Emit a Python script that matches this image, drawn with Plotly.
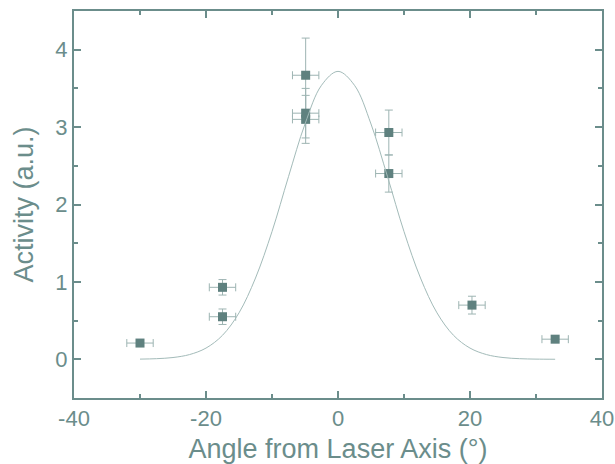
import plotly.graph_objects as go

# Measured data points
angle = [-30.0, -17.5, -17.5, -4.9, -4.9, -4.9, 7.7, 7.7, 20.3, 32.9]
activity = [0.21, 0.93, 0.55, 3.67, 3.18, 3.10, 2.93, 2.40, 0.70, 0.26]
activity_err = [0.03, 0.10, 0.10, 0.48, 0.32, 0.31, 0.29, 0.24, 0.115, 0.03]
angle_err = [2.0, 2.0, 2.0, 2.0, 2.0, 2.0, 2.0, 2.0, 2.0, 2.0]

# Fitted curve
fit_angle = [-30.0, -27.5, -25.0, -22.5, -20.0, -17.5, -15.0, -12.5, -10.0, -7.5, -5.0, -2.5, 0.0,
             2.5, 5.0, 7.5, 10.0, 12.5, 15.0, 17.5, 20.0, 22.5, 25.0, 27.5, 30.0, 32.9]
fit_activity = [0.0025, 0.008, 0.023, 0.061, 0.145, 0.31, 0.60, 1.05, 1.65, 2.36, 3.04, 3.54, 3.72,
                3.54, 3.04, 2.36, 1.65, 1.05, 0.60, 0.31, 0.145, 0.061, 0.023, 0.008, 0.0025, 0.0006]

x_ticks = [-40, -20, 0, 20, 40]
y_ticks = [0, 1, 2, 3, 4]

axis_color = "#6b8d8b"
marker_color = "#5f817f"
err_color = "#9db4b2"
curve_color = "#a3bbb9"

fig = go.Figure()
fig.add_trace(go.Scatter(
    x=angle, y=activity, mode="markers",
    marker=dict(symbol="square", size=9, color=marker_color, line=dict(width=0)),
    error_x=dict(type="data", array=angle_err, color=err_color, thickness=1, width=4),
    error_y=dict(type="data", array=activity_err, color=err_color, thickness=1, width=4),
    showlegend=False,
))
fig.add_trace(go.Scatter(
    x=fit_angle, y=fit_activity, mode="lines",
    line=dict(color=curve_color, width=1, shape="spline"),
    showlegend=False,
))

font_family = "Liberation Sans, Arial, sans-serif"
fig.update_layout(
    width=615, height=464,
    margin=dict(l=74, r=13, t=11, b=66),
    paper_bgcolor="white", plot_bgcolor="white",
    font=dict(family=font_family, color=axis_color, size=22),
    xaxis=dict(
        range=[-40, 40], tickvals=x_ticks, ticktext=[str(v) for v in x_ticks],
        showgrid=False, zeroline=False, automargin=False,
        showline=True, linecolor=axis_color, linewidth=2, mirror="ticks",
        ticks="inside", ticklen=7, tickwidth=2, tickcolor=axis_color,
        minor=dict(ticks="inside", ticklen=4, tickwidth=2, tickcolor=axis_color, dtick=10, showgrid=False),
        tickfont=dict(size=22, color=axis_color),
        title=dict(text="Angle from Laser Axis (°)", font=dict(size=27, color=axis_color), standoff=9),
    ),
    yaxis=dict(
        range=[-0.5, 4.5], tickvals=y_ticks, ticktext=[str(v) for v in y_ticks],
        showgrid=False, zeroline=False, automargin=False,
        showline=True, linecolor=axis_color, linewidth=2, mirror="ticks",
        ticks="inside", ticklen=7, tickwidth=2, tickcolor=axis_color,
        minor=dict(ticks="inside", ticklen=4, tickwidth=2, tickcolor=axis_color, dtick=0.5, showgrid=False),
        tickfont=dict(size=22, color=axis_color),
        title=dict(text="Activity (a.u.)", font=dict(size=27, color=axis_color), standoff=14),
    ),
)

fig.write_html("out.html")
